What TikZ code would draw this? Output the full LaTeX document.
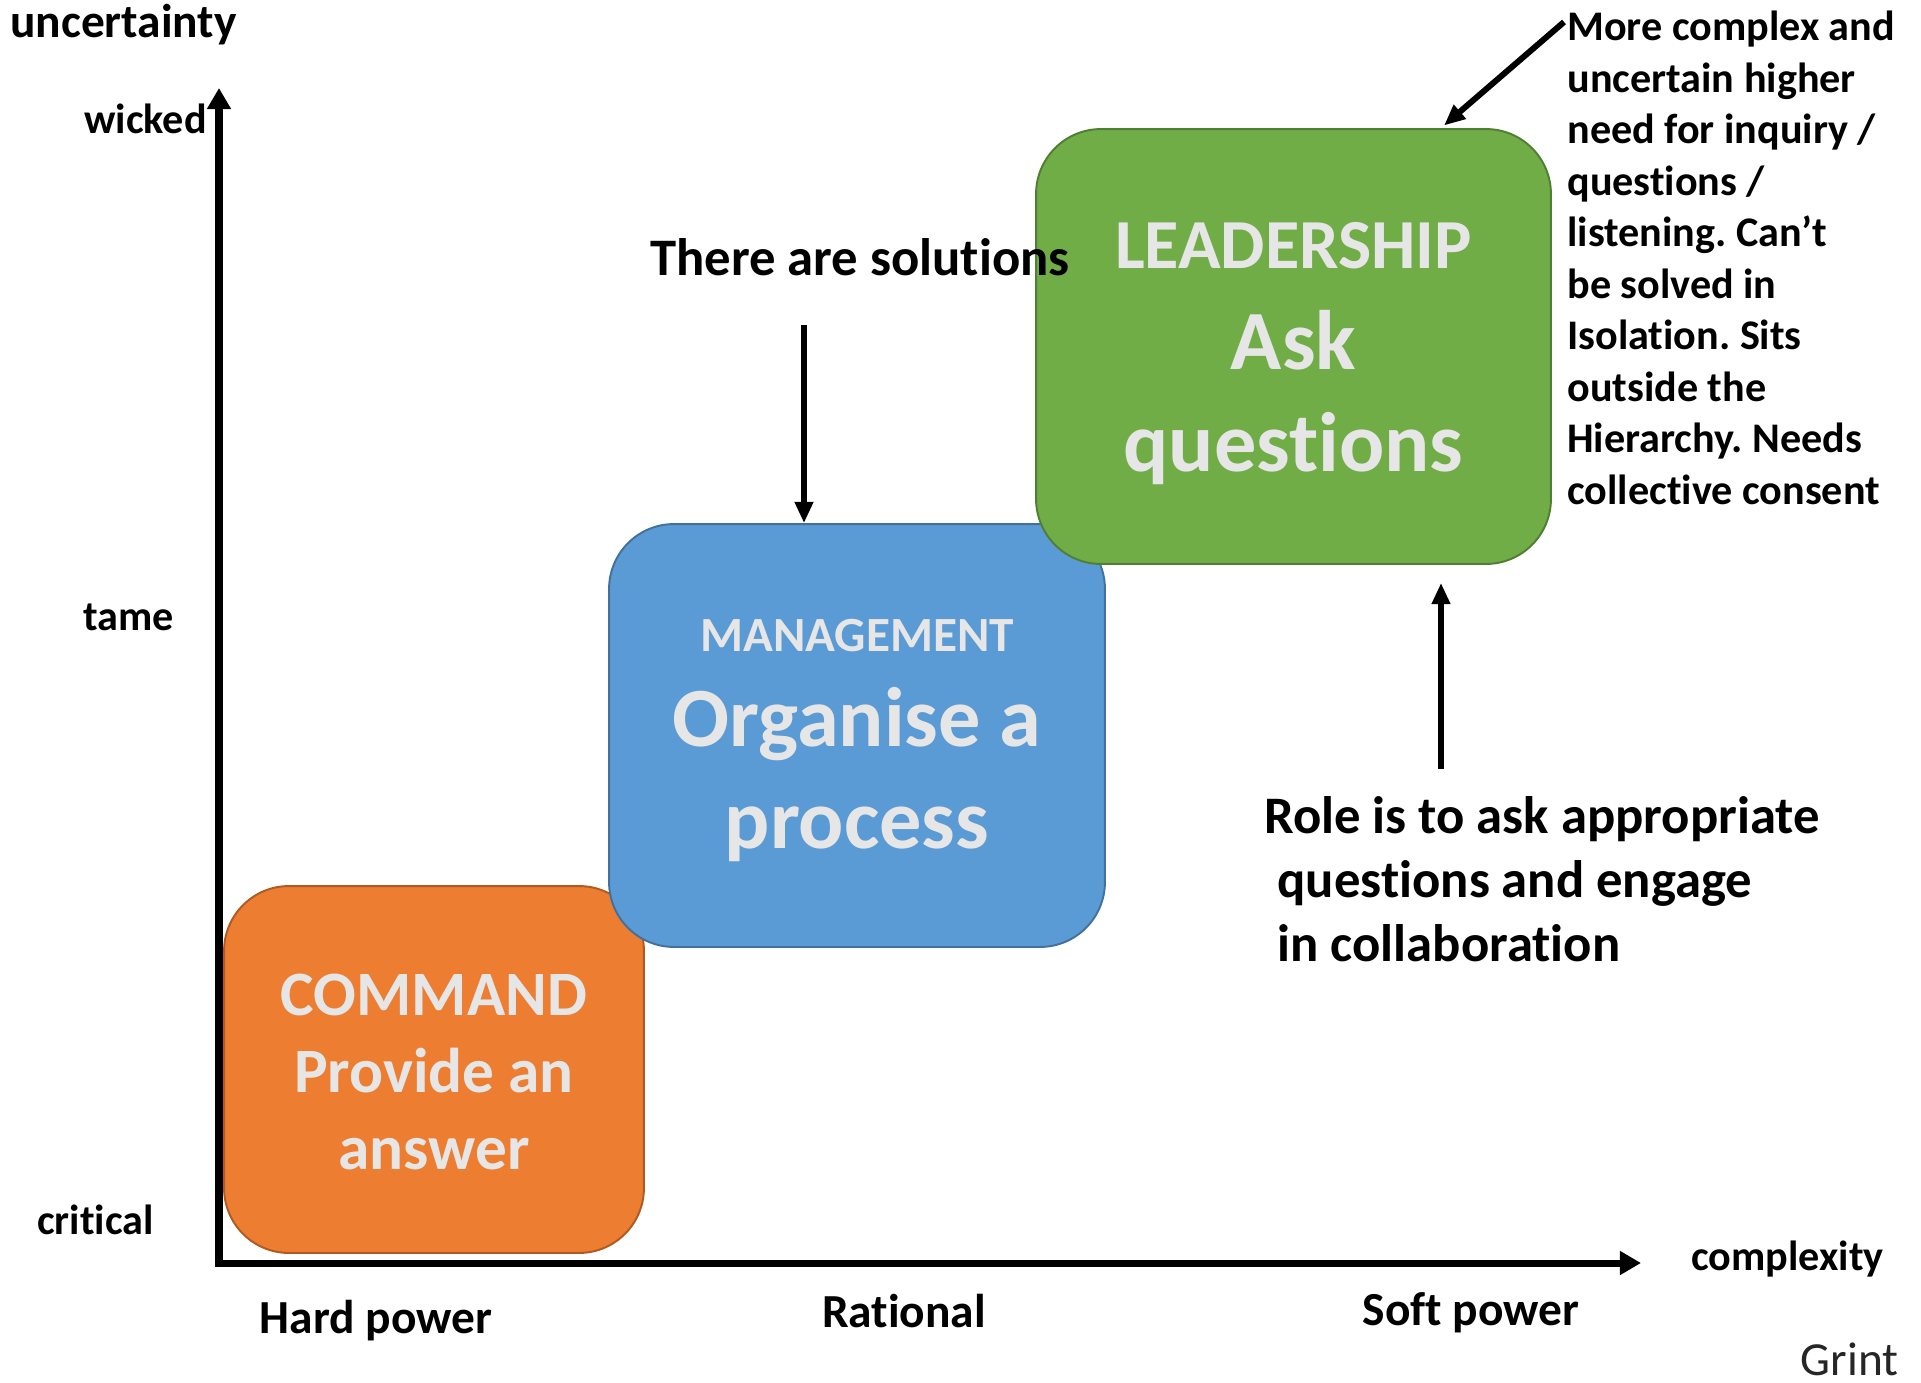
\documentclass[tikz,border=0pt]{standalone}
\usepackage{fontspec}
\setmainfont{Carlito}[Ligatures=NoCommon, Contextuals=NoAlternate, RawFeature={-liga;-dlig}]
\frenchspacing
\usetikzlibrary{arrows.meta,positioning,calc}
\definecolor{cmdfill}{HTML}{ED7D31}
\definecolor{cmdline}{HTML}{AE5A21}
\definecolor{mgmtfill}{HTML}{5B9BD5}
\definecolor{mgmtline}{HTML}{41719C}
\definecolor{leadfill}{HTML}{70AD47}
\definecolor{leadline}{HTML}{507E32}
\definecolor{boxtext}{HTML}{E7E6E6}

\begin{document}
\begin{tikzpicture}[x=0.02cm, y=-0.02cm,
    box/.style = {draw, line width=1.1pt, rounded corners=1.3cm, inner sep=0pt},
    boxlbl/.style = {text=boxtext, align=center, inner sep=0pt},
    lbl/.style = {font=\bfseries\fontsize{24}{29.3}\selectfont, inner sep=0pt},
    biglbl/.style = {font=\bfseries\fontsize{27}{33}\selectfont, inner sep=0pt},
    note/.style = {font=\bfseries\fontsize{30}{36.5}\selectfont, inner sep=0pt},
    axis/.style = {line width=4pt, {Triangle[length=12pt,width=13pt]}-{Triangle[length=12pt,width=13pt]}},
    pointer/.style = {line width=3.4pt, -{Triangle[length=12pt,width=10pt]}}]
  \useasboundingbox (0,0) rectangle (1921,1383);
  \coordinate (origin) at (219,1263);
  \coordinate (ytop) at (219,88);
  \coordinate (xend) at (1641,1263);
  \draw [axis] (ytop) -- (origin) -- (xend);
  \node [box, fill=cmdfill, draw=cmdline, minimum width=8.4cm, minimum height=7.34cm] (cmd) at (434,1069.5) {};
  \node [box, fill=mgmtfill, draw=mgmtline, minimum width=9.92cm, minimum height=8.46cm] (mgmt) at (857,735.5) {};
  \node [box, fill=leadfill, draw=leadline, minimum width=10.3cm, minimum height=8.7cm] (lead) at (1293.5,346.5) {};
  \node [boxlbl, font=\bfseries\fontsize{36}{44}\selectfont] (cmdText) at ([yshift=-0.05cm]cmd.center) {COMMAND\\Provide an\\answer};
  \node [boxlbl, font=\bfseries\fontsize{48}{58}\selectfont] (mgmtText) at ([yshift=-0.1cm]mgmt.center) {
    \fontsize{28}{34}\selectfont MANAGEMENT\\[-4pt]Organise a\\process};
  \node [boxlbl, font=\bfseries\fontsize{48}{58}\selectfont] (leadText) at ([yshift=-0.14cm]lead.center) {
    \fontsize{40}{49}\selectfont LEADERSHIP\\[0pt]Ask\\questions};
  \node [biglbl, anchor=west] (uncert) at (10,25) {uncertainty};
  \node [lbl, anchor=east] (wicked) at (207,119) {wicked};
  \node [lbl, anchor=west] (tame) at (83,617) {tame};
  \node [lbl, anchor=west] (critical) at (37,1220) {critical};
  \node [lbl, anchor=west] (complex) at (1691,1259) {complexity};
  \node [biglbl] (hard) at (376,1321) {Hard power};
  \node [biglbl] (rational) at (904,1311) {Rational};
  \node [biglbl] (soft) at (1471,1313) {Soft power};
  \node [font=\fontsize{27}{33}\selectfont, text=black!85, anchor=east, inner sep=0pt] (grint) at (1899,1359) {Grint};
  \node [note] (sol) at (860,257) {There are solutions};
  \node [note, align=left, anchor=west] (role) at (1264,879) {Role is to ask appropriate\\\hspace{0.25em}questions and engage\\\hspace{0.25em}in collaboration};
  \node [lbl, align=left, anchor=north west] (more) at (1567,11) {More complex and\\uncertain higher\\need for inquiry /\\questions /\\listening. Can’t\\be solved in\\Isolation. Sits\\outside the\\Hierarchy. Needs\\collective consent};
  \coordinate (solTail) at (804,325);
  \draw [pointer] (solTail) -- (solTail |- mgmt.north);
  \coordinate (roleTail) at (1441,769);
  \draw [pointer, shorten >=0.36cm] (roleTail) -- (roleTail |- lead.south);
  \coordinate (moreTail) at (1564,22);
  \draw [pointer, shorten >=0.08cm] (moreTail) -- (roleTail |- lead.north);
\end{tikzpicture}
\end{document}
